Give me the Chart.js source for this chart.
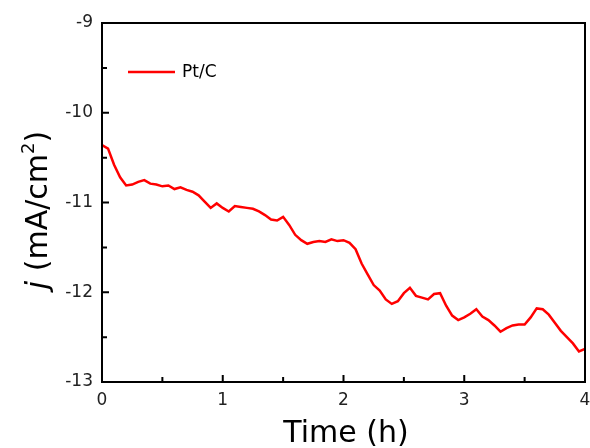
<!DOCTYPE html>
<html>
<head>
    <title>Pt/C chronoamperometry</title>
    <script src="https://cdn.jsdelivr.net/npm/chart.js"></script>
    <style>
        body { margin: 0; background: #fff; }
        canvas { display: block; }
    </style>
</head>
<body>
    <canvas id="chart" width="590" height="448"></canvas>
    <script>
        // values
        const hours = [
            0.00, 0.05, 0.10, 0.15, 0.20, 0.25, 0.30, 0.35, 0.40, 0.45,
            0.50, 0.55, 0.60, 0.65, 0.70, 0.75, 0.80, 0.85, 0.90, 0.95,
            1.00, 1.05, 1.10, 1.15, 1.20, 1.25, 1.30, 1.35, 1.40, 1.45,
            1.50, 1.55, 1.60, 1.65, 1.70, 1.75, 1.80, 1.85, 1.90, 1.95,
            2.00, 2.05, 2.10, 2.15, 2.20, 2.25, 2.30, 2.35, 2.40, 2.45,
            2.50, 2.55, 2.60, 2.65, 2.70, 2.75, 2.80, 2.85, 2.90, 2.95,
            3.00, 3.05, 3.10, 3.15, 3.20, 3.25, 3.30, 3.35, 3.40, 3.45,
            3.50, 3.55, 3.60, 3.65, 3.70, 3.75, 3.80, 3.85, 3.90, 3.95,
            4.00
        ];
        const ptcCurrent = [
            -10.36, -10.40, -10.58, -10.72, -10.81, -10.80, -10.77, -10.75, -10.79, -10.80,
            -10.82, -10.81, -10.85, -10.83, -10.86, -10.88, -10.92, -10.99, -11.06, -11.01,
            -11.06, -11.10, -11.04, -11.05, -11.06, -11.07, -11.10, -11.14, -11.19, -11.20,
            -11.16, -11.25, -11.36, -11.42, -11.46, -11.44, -11.43, -11.44, -11.41, -11.43,
            -11.42, -11.45, -11.52, -11.68, -11.80, -11.92, -11.98, -12.08, -12.13, -12.10,
            -12.01, -11.95, -12.04, -12.06, -12.08, -12.02, -12.01, -12.15, -12.26, -12.31,
            -12.28, -12.24, -12.19, -12.27, -12.31, -12.37, -12.44, -12.40, -12.37, -12.36,
            -12.36, -12.28, -12.18, -12.19, -12.25, -12.34, -12.43, -12.50, -12.57, -12.66,
            -12.63
        ];
        const xTicks = [0, 1, 2, 3, 4];
        const yTicks = [-13, -12, -11, -10, -9];
        const xMinorTicks = [0.5, 1.5, 2.5, 3.5];
        const yMinorTicks = [-12.5, -11.5, -10.5, -9.5];

        const FONT = '"DejaVu Sans", Verdana, sans-serif';

        // frame, inward ticks, legend and axis titles
        const decorations = {
            id: 'decorations',
            afterDraw(chart) {
                const ctx = chart.ctx;
                const area = chart.chartArea;
                const xs = chart.scales.x;
                const ys = chart.scales.y;
                ctx.save();
                ctx.strokeStyle = '#000';
                ctx.lineWidth = 2;
                ctx.strokeRect(area.left, area.top, area.right - area.left, area.bottom - area.top);

                ctx.beginPath();
                xTicks.forEach(v => {
                    const px = xs.getPixelForValue(v);
                    ctx.moveTo(px, area.bottom);
                    ctx.lineTo(px, area.bottom - 7);
                });
                xMinorTicks.forEach(v => {
                    const px = xs.getPixelForValue(v);
                    ctx.moveTo(px, area.bottom);
                    ctx.lineTo(px, area.bottom - 5);
                });
                yTicks.forEach(v => {
                    const py = ys.getPixelForValue(v);
                    ctx.moveTo(area.left, py);
                    ctx.lineTo(area.left + 7, py);
                });
                yMinorTicks.forEach(v => {
                    const py = ys.getPixelForValue(v);
                    ctx.moveTo(area.left, py);
                    ctx.lineTo(area.left + 5, py);
                });
                ctx.stroke();

                // legend
                ctx.strokeStyle = '#ff0000';
                ctx.lineWidth = 2.5;
                ctx.beginPath();
                ctx.moveTo(128, 72);
                ctx.lineTo(175, 72);
                ctx.stroke();
                ctx.fillStyle = '#000';
                ctx.font = '17px ' + FONT;
                ctx.textBaseline = 'middle';
                ctx.fillText('Pt/C', 182, 73);

                // x title
                ctx.font = '30px ' + FONT;
                ctx.textAlign = 'center';
                ctx.textBaseline = 'alphabetic';
                ctx.fillText('Time (h)', 346, 442);

                // y title: j (mA/cm²) with italic j and raised 2
                ctx.translate(47, 210);
                ctx.rotate(-Math.PI / 2);
                ctx.textAlign = 'left';
                const parts = [
                    { t: 'j', f: 'italic 30px ' + FONT, dy: 0 },
                    { t: ' (mA/cm', f: '30px ' + FONT, dy: 0 },
                    { t: '2', f: '18px ' + FONT, dy: -13 },
                    { t: ')', f: '30px ' + FONT, dy: 0 }
                ];
                let total = 0;
                parts.forEach(p => { ctx.font = p.f; total += ctx.measureText(p.t).width; });
                let cx = -total / 2;
                parts.forEach(p => {
                    ctx.font = p.f;
                    ctx.fillText(p.t, cx, p.dy);
                    cx += ctx.measureText(p.t).width;
                });
                ctx.restore();
            }
        };

        new Chart(document.getElementById('chart').getContext('2d'), {
            type: 'line',
            data: {
                datasets: [{
                    label: 'Pt/C',
                    data: hours.map((h, i) => ({ x: h, y: ptcCurrent[i] })),
                    borderColor: '#ff0000',
                    borderWidth: 2.5,
                    pointRadius: 0,
                    tension: 0,
                    fill: false
                }]
            },
            options: {
                responsive: false,
                animation: false,
                layout: { padding: { top: 23, right: 5, left: 0, bottom: 0 } },
                plugins: {
                    legend: { display: false },
                    tooltip: { enabled: false }
                },
                scales: {
                    x: {
                        type: 'linear',
                        min: 0,
                        max: 4,
                        grid: { display: false, drawTicks: false },
                        border: { display: false },
                        afterFit: s => { s.height = 66; s.paddingLeft = 0; s.paddingRight = 0; },
                        afterBuildTicks: s => { s.ticks = xTicks.map(v => ({ value: v })); },
                        ticks: { color: '#222', padding: 8, font: { family: FONT, size: 17 } }
                    },
                    y: {
                        type: 'linear',
                        min: -13,
                        max: -9,
                        grid: { display: false, drawTicks: false },
                        border: { display: false },
                        afterFit: s => { s.width = 102; s.paddingTop = 0; s.paddingBottom = 0; },
                        afterBuildTicks: s => { s.ticks = yTicks.map(v => ({ value: v })); },
                        ticks: { color: '#222', padding: 9, font: { family: FONT, size: 17 } }
                    }
                }
            },
            plugins: [decorations]
        });
    </script>
</body>
</html>
